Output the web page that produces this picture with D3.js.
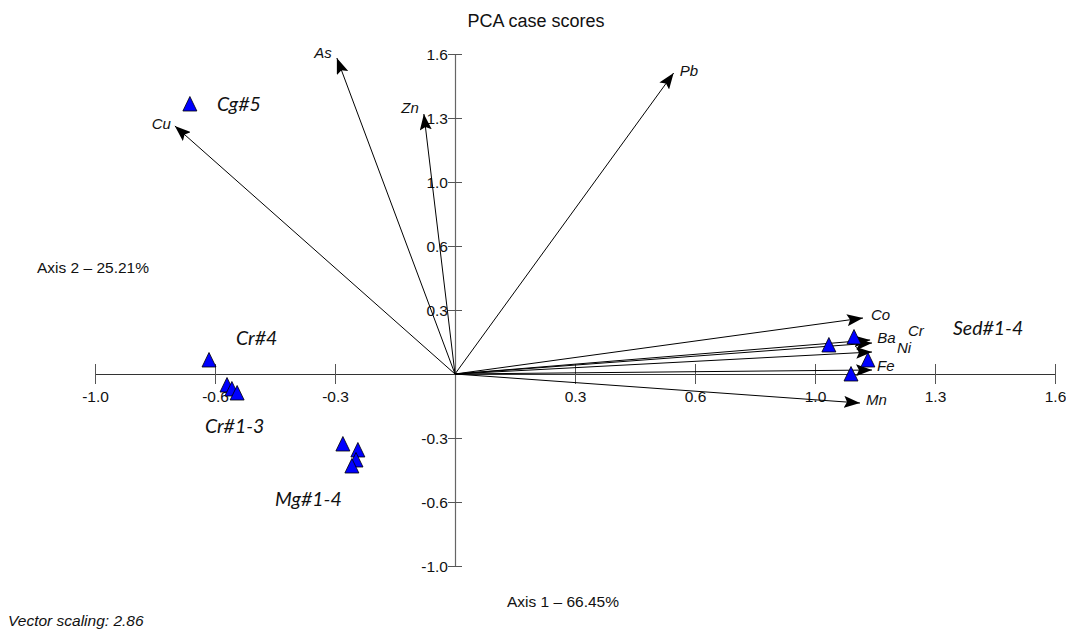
<!DOCTYPE html>
<html>
<head>
<meta charset="utf-8">
<script src="https://cdn.jsdelivr.net/npm/d3@7"></script>
<style>
  html, body { margin: 0; padding: 0; background: #fff; }
  svg { display: block; }
</style>
</head>
<body>
<svg id="chart" width="1066" height="632"></svg>
<script>
// ---- data ----
const tickValues = [-0.96, -0.64, -0.32, 0.32, 0.64, 0.96, 1.28, 1.6];
const tickLabels = ["-1.0", "-0.6", "-0.3", "0.3", "0.6", "1.0", "1.3", "1.6"];

const vectorNames = ["As", "Cu", "Zn", "Pb", "Co", "Ba", "Cr", "Ni", "Fe", "Mn"];
const vectorX = [-0.315, -0.747, -0.083, 0.583, 1.088, 1.107, 1.112, 1.112, 1.112, 1.080];
const vectorY = [1.580, 1.240, 1.300, 1.505, 0.280, 0.170, 0.155, 0.110, 0.020, -0.145];

const sampleGroups = ["Cg#5", "Cr#4", "Cr#1-3", "Cr#1-3", "Cr#1-3", "Mg#1-4", "Mg#1-4", "Mg#1-4", "Mg#1-4", "Sed#1-4", "Sed#1-4", "Sed#1-4", "Sed#1-4"];
const sampleX = [-0.707, -0.656, -0.608, -0.595, -0.581, -0.299, -0.259, -0.264, -0.275, 0.997, 1.064, 1.101, 1.056];
const sampleY = [1.350, 0.070, -0.055, -0.075, -0.095, -0.350, -0.380, -0.430, -0.460, 0.145, 0.185, 0.070, 0.000];

const groupNames = ["Cg#5", "Cr#4", "Cr#1-3", "Mg#1-4", "Sed#1-4"];
const groupLabelX = [-0.635, -0.584, -0.667, -0.480, 1.328];
const groupLabelY = [1.315, 0.145, -0.295, -0.660, 0.195];

const titleText = "PCA case scores";
const axis1Text = "Axis 1 \u2013 66.45%";
const axis2Text = "Axis 2 \u2013 25.21%";
const footText = "Vector scaling: 2.86";

// ---- label placement (style) ----
const vecLabelStyle = {
  As: { anchor: "end", dx: -5, dy: 0 },
  Cu: { anchor: "end", dx: -4, dy: 3 },
  Zn: { anchor: "end", dx: -5, dy: -1 },
  Pb: { anchor: "start", dx: 6, dy: 3 },
  Co: { anchor: "start", dx: 8, dy: 2 },
  Ba: { anchor: "start", dx: 7, dy: 3 },
  Cr: { anchor: "start", dx: 36, dy: -7 },
  Ni: { anchor: "start", dx: 25, dy: 1 },
  Fe: { anchor: "start", dx: 5, dy: 1 },
  Mn: { anchor: "start", dx: 6, dy: 2 }
};

const svg = d3.select("#chart");
const x = d3.scaleLinear().domain([-0.96, 1.6]).range([95, 1055]);
const y = d3.scaleLinear().domain([-0.96, 1.6]).range([566, 54]);

const axisFont = "'Liberation Sans', Arial, sans-serif";

// title
svg.append("text").attr("x", 536).attr("y", 27).attr("text-anchor", "middle")
  .attr("font-family", axisFont).attr("font-size", 18).attr("fill", "#111").text(titleText);

// X axis
const xAxis = d3.axisBottom(x).tickValues(tickValues)
  .tickFormat((d, i) => tickLabels[i]).tickSizeOuter(0).tickSizeInner(10).tickPadding(4);
const gx = svg.append("g").attr("transform", `translate(0,${y(0)})`).call(xAxis);
gx.select(".domain").attr("stroke", "#333").attr("stroke-width", 1.2);
gx.selectAll(".tick line").attr("y1", -10).attr("y2", 10).attr("stroke", "#555");
gx.selectAll(".tick text").attr("font-family", axisFont).attr("font-size", 15.5).attr("fill", "#111").attr("dy", "0.9em");

// Y axis
const yAxis = d3.axisLeft(y).tickValues(tickValues)
  .tickFormat((d, i) => tickLabels[i]).tickSizeOuter(0).tickSizeInner(7).tickPadding(0);
const gy = svg.append("g").attr("transform", `translate(${x(0)},0)`).call(yAxis);
gy.select(".domain").attr("stroke", "#666").attr("stroke-width", 1.2);
gy.selectAll(".tick line").attr("x1", -7).attr("x2", 7).attr("stroke", "#555");
gy.selectAll(".tick text").attr("font-family", axisFont).attr("font-size", 15.5).attr("fill", "#111").attr("x", -7).attr("dy", "0.36em");

// axis titles
svg.append("text").attr("x", 507).attr("y", 607)
  .attr("font-family", axisFont).attr("font-size", 15.5).attr("fill", "#111").text(axis1Text);
svg.append("text").attr("x", 37).attr("y", 273)
  .attr("font-family", axisFont).attr("font-size", 15.5).attr("fill", "#111").text(axis2Text);
svg.append("text").attr("x", 8).attr("y", 626)
  .attr("font-family", axisFont).attr("font-size", 15.5).attr("font-style", "italic").attr("fill", "#111").text(footText);

// arrow marker
svg.append("defs").append("marker")
  .attr("id", "arrow").attr("markerUnits", "userSpaceOnUse")
  .attr("markerWidth", 16).attr("markerHeight", 12)
  .attr("viewBox", "0 0 16 12").attr("refX", 16).attr("refY", 6)
  .attr("orient", "auto")
  .append("path").attr("d", "M0,0 L16,6 L0,12 L3,6 Z").attr("fill", "#000");

// vectors
const vectors = vectorNames.map((n, i) => ({ n, vx: vectorX[i], vy: vectorY[i] }));
svg.append("g").selectAll("line").data(vectors).join("line")
  .attr("x1", x(0)).attr("y1", y(0))
  .attr("x2", d => x(d.vx)).attr("y2", d => y(d.vy))
  .attr("stroke", "#000").attr("stroke-width", 1)
  .attr("marker-end", "url(#arrow)");

// samples
const samples = sampleGroups.map((g, i) => ({ g, sx: sampleX[i], sy: sampleY[i] }));
const tri = d => {
  const cx = x(d.sx), cy = y(d.sy);
  return `M${cx},${cy - 7.5} L${cx + 7},${cy + 7} L${cx - 7},${cy + 7} Z`;
};
svg.append("g").selectAll("path").data(samples).join("path")
  .attr("d", tri).attr("fill", "#0000ff").attr("stroke", "#000").attr("stroke-width", 0.8);

// vector labels
svg.append("g").selectAll("text").data(vectors).join("text")
  .attr("x", d => x(d.vx) + vecLabelStyle[d.n].dx)
  .attr("y", d => y(d.vy) + vecLabelStyle[d.n].dy)
  .attr("text-anchor", d => vecLabelStyle[d.n].anchor)
  .attr("font-family", axisFont).attr("font-size", 15).attr("font-style", "italic").attr("fill", "#111")
  .text(d => d.n);

// group labels
const groups = groupNames.map((n, i) => ({ n, lx: groupLabelX[i], ly: groupLabelY[i] }));
svg.append("g").selectAll("text").data(groups).join("text")
  .attr("x", d => x(d.lx)).attr("y", d => y(d.ly))
  .attr("font-family", "Lato, 'Noto Sans', sans-serif").attr("font-size", 19.5).attr("font-style", "italic").attr("fill", "#111")
  .text(d => d.n);
</script>
</body>
</html>
